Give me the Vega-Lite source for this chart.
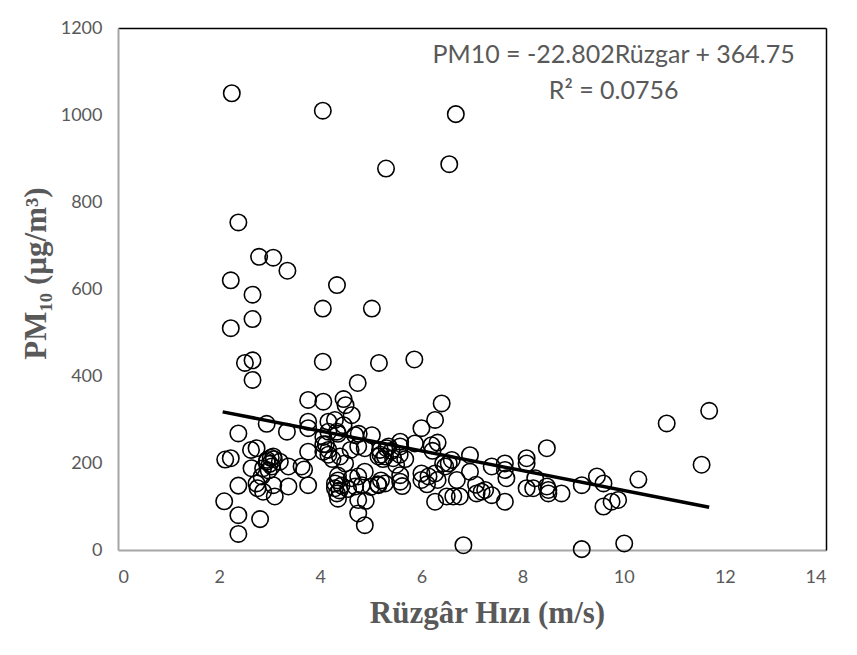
{
  "$schema": "https://vega.github.io/schema/vega-lite/v6.json",
  "width": 708,
  "height": 522,
  "autosize": {"type": "none"},
  "padding": {"left": 118, "top": 28, "right": 31, "bottom": 105},
  "background": "white",
  "config": {
    "view": {"stroke": null},
    "axis": {
      "grid": false,
      "ticks": false,
      "domainColor": "#a6a6a6",
      "domainWidth": 2,
      "labelFont": "Lato",
      "labelFontSize": 18,
      "labelColor": "#595959",
      "titleFont": "Liberation Serif",
      "titleFontWeight": "bold",
      "titleFontSize": 31,
      "titleColor": "#595959"
    }
  },
  "resolve": {"axis": {"x": "independent", "y": "independent"}},
  "datasets": {
    "obs": [
      {"wind": 2.25, "pm10": 1050}, {"wind": 4.05, "pm10": 1010}, {"wind": 6.68, "pm10": 1002}, {"wind": 5.30, "pm10": 877}, {"wind": 6.55, "pm10": 887},
      {"wind": 2.38, "pm10": 753}, {"wind": 2.79, "pm10": 674}, {"wind": 3.07, "pm10": 672}, {"wind": 3.35, "pm10": 642}, {"wind": 2.23, "pm10": 620},
      {"wind": 2.66, "pm10": 587}, {"wind": 4.33, "pm10": 609}, {"wind": 4.05, "pm10": 555}, {"wind": 5.02, "pm10": 555}, {"wind": 2.66, "pm10": 531},
      {"wind": 2.23, "pm10": 510}, {"wind": 2.51, "pm10": 430}, {"wind": 2.66, "pm10": 436}, {"wind": 2.66, "pm10": 391}, {"wind": 4.05, "pm10": 433},
      {"wind": 5.16, "pm10": 430}, {"wind": 5.86, "pm10": 438}, {"wind": 4.74, "pm10": 384}, {"wind": 6.40, "pm10": 337}, {"wind": 11.69, "pm10": 320},
      {"wind": 10.85, "pm10": 291}, {"wind": 11.54, "pm10": 196}, {"wind": 10.29, "pm10": 162}, {"wind": 8.48, "pm10": 234}, {"wind": 6.83, "pm10": 11},
      {"wind": 9.17, "pm10": 2}, {"wind": 10.01, "pm10": 15},
      {"wind": 2.38, "pm10": 37}, {"wind": 2.38, "pm10": 80}, {"wind": 2.81, "pm10": 71}, {"wind": 2.10, "pm10": 112}, {"wind": 2.38, "pm10": 148},
      {"wind": 2.38, "pm10": 268}, {"wind": 2.12, "pm10": 208}, {"wind": 2.23, "pm10": 211}, {"wind": 2.94, "pm10": 290}, {"wind": 2.63, "pm10": 230},
      {"wind": 2.74, "pm10": 234}, {"wind": 3.07, "pm10": 215}, {"wind": 2.94, "pm10": 203}, {"wind": 3.04, "pm10": 192}, {"wind": 3.20, "pm10": 203},
      {"wind": 2.87, "pm10": 188}, {"wind": 2.64, "pm10": 188}, {"wind": 3.37, "pm10": 192}, {"wind": 3.63, "pm10": 192}, {"wind": 3.68, "pm10": 185},
      {"wind": 2.74, "pm10": 153}, {"wind": 2.84, "pm10": 169}, {"wind": 3.07, "pm10": 149}, {"wind": 3.10, "pm10": 123}, {"wind": 2.87, "pm10": 134},
      {"wind": 3.37, "pm10": 146}, {"wind": 3.76, "pm10": 149}, {"wind": 3.34, "pm10": 272}, {"wind": 3.76, "pm10": 345}, {"wind": 3.76, "pm10": 295},
      {"wind": 3.76, "pm10": 280}, {"wind": 3.76, "pm10": 226}, {"wind": 2.95, "pm10": 207}, {"wind": 3.00, "pm10": 198}, {"wind": 3.02, "pm10": 212},
      {"wind": 2.98, "pm10": 183}, {"wind": 2.76, "pm10": 142}, {"wind": 3.08, "pm10": 209},
      {"wind": 4.06, "pm10": 341}, {"wind": 4.46, "pm10": 347}, {"wind": 4.50, "pm10": 333}, {"wind": 4.62, "pm10": 310}, {"wind": 4.16, "pm10": 295},
      {"wind": 4.29, "pm10": 299}, {"wind": 4.46, "pm10": 287}, {"wind": 4.16, "pm10": 272}, {"wind": 4.33, "pm10": 272}, {"wind": 4.35, "pm10": 267},
      {"wind": 4.69, "pm10": 264}, {"wind": 5.02, "pm10": 264}, {"wind": 4.06, "pm10": 260}, {"wind": 4.06, "pm10": 243}, {"wind": 4.11, "pm10": 243},
      {"wind": 4.06, "pm10": 226}, {"wind": 4.16, "pm10": 230}, {"wind": 4.16, "pm10": 219}, {"wind": 4.24, "pm10": 209}, {"wind": 4.39, "pm10": 215},
      {"wind": 4.49, "pm10": 199}, {"wind": 4.75, "pm10": 238}, {"wind": 4.88, "pm10": 234}, {"wind": 4.35, "pm10": 171}, {"wind": 4.29, "pm10": 153},
      {"wind": 4.29, "pm10": 142}, {"wind": 4.33, "pm10": 130}, {"wind": 4.35, "pm10": 118}, {"wind": 4.38, "pm10": 137}, {"wind": 4.35, "pm10": 160},
      {"wind": 4.42, "pm10": 148}, {"wind": 4.55, "pm10": 140}, {"wind": 4.69, "pm10": 146}, {"wind": 4.82, "pm10": 149}, {"wind": 4.75, "pm10": 169},
      {"wind": 4.88, "pm10": 180}, {"wind": 4.90, "pm10": 113}, {"wind": 4.75, "pm10": 115}, {"wind": 4.75, "pm10": 84}, {"wind": 4.88, "pm10": 57},
      {"wind": 4.62, "pm10": 165}, {"wind": 4.76, "pm10": 267}, {"wind": 4.60, "pm10": 230},
      {"wind": 5.18, "pm10": 230}, {"wind": 5.31, "pm10": 234}, {"wind": 5.58, "pm10": 238}, {"wind": 5.58, "pm10": 249}, {"wind": 5.28, "pm10": 215},
      {"wind": 5.15, "pm10": 215}, {"wind": 5.44, "pm10": 211}, {"wind": 5.19, "pm10": 219}, {"wind": 5.24, "pm10": 209}, {"wind": 5.41, "pm10": 228},
      {"wind": 5.57, "pm10": 219}, {"wind": 5.87, "pm10": 245}, {"wind": 5.68, "pm10": 209}, {"wind": 5.15, "pm10": 149}, {"wind": 5.28, "pm10": 153},
      {"wind": 5.58, "pm10": 157}, {"wind": 5.58, "pm10": 172}, {"wind": 5.62, "pm10": 147}, {"wind": 5.14, "pm10": 151}, {"wind": 5.20, "pm10": 160},
      {"wind": 5.00, "pm10": 145}, {"wind": 5.35, "pm10": 238}, {"wind": 5.50, "pm10": 196},
      {"wind": 6.20, "pm10": 241}, {"wind": 6.00, "pm10": 280}, {"wind": 6.27, "pm10": 299}, {"wind": 6.32, "pm10": 247}, {"wind": 6.22, "pm10": 228},
      {"wind": 6.00, "pm10": 176}, {"wind": 6.14, "pm10": 169}, {"wind": 6.27, "pm10": 176}, {"wind": 6.47, "pm10": 192}, {"wind": 6.60, "pm10": 207},
      {"wind": 6.43, "pm10": 199}, {"wind": 6.54, "pm10": 199}, {"wind": 6.00, "pm10": 161}, {"wind": 6.11, "pm10": 151}, {"wind": 6.32, "pm10": 161},
      {"wind": 6.27, "pm10": 111}, {"wind": 6.50, "pm10": 123}, {"wind": 6.63, "pm10": 123}, {"wind": 6.70, "pm10": 161}, {"wind": 6.96, "pm10": 218},
      {"wind": 6.96, "pm10": 180}, {"wind": 6.76, "pm10": 123}, {"wind": 7.09, "pm10": 130}, {"wind": 7.19, "pm10": 134}, {"wind": 7.26, "pm10": 138},
      {"wind": 7.39, "pm10": 126}, {"wind": 7.08, "pm10": 150},
      {"wind": 7.39, "pm10": 192}, {"wind": 7.65, "pm10": 199}, {"wind": 7.65, "pm10": 184}, {"wind": 7.68, "pm10": 165}, {"wind": 7.65, "pm10": 111},
      {"wind": 8.08, "pm10": 211}, {"wind": 8.08, "pm10": 199}, {"wind": 8.08, "pm10": 142}, {"wind": 8.21, "pm10": 142}, {"wind": 8.51, "pm10": 138},
      {"wind": 8.51, "pm10": 130}, {"wind": 8.48, "pm10": 146}, {"wind": 8.77, "pm10": 130}, {"wind": 8.25, "pm10": 165}, {"wind": 9.17, "pm10": 149},
      {"wind": 9.47, "pm10": 169}, {"wind": 9.60, "pm10": 153}, {"wind": 9.60, "pm10": 100}, {"wind": 9.76, "pm10": 111}, {"wind": 9.89, "pm10": 115}
    ],
    "trend": [
      {"wind": 2.07, "pm10": 317.55},
      {"wind": 11.69, "pm10": 98.2}
    ],
    "notes": [
      {"label": "PM10 = -22.802Rüzgar + 364.75", "wind": 9.8, "pm10": 1138},
      {"label": "R² = 0.0756", "wind": 9.8, "pm10": 1056}
    ]
  },
  "layer": [
    {
      "data": {"name": "obs"},
      "mark": {"type": "point", "shape": "circle", "filled": false, "stroke": "black", "strokeWidth": 1.6, "size": 270, "opacity": 1},
      "encoding": {
        "x": {"field": "wind", "type": "quantitative", "scale": {"domain": [0, 14], "nice": false, "zero": true}, "axis": {"values": [0, 2, 4, 6, 8, 10, 12, 14], "format": "d", "title": "Rüzgâr Hızı (m/s)", "labelPadding": 18, "titlePadding": 12, "titleX": 369}},
        "y": {"field": "pm10", "type": "quantitative", "scale": {"domain": [0, 1200], "nice": false}, "axis": {"values": [0, 200, 400, 600, 800, 1000, 1200], "format": "d", "title": "PM₁₀ (µg/m³)", "labelPadding": 16, "titlePadding": 8, "titleY": 245}}
      }
    },
    {
      "data": {"name": "trend"},
      "mark": {"type": "line", "color": "black", "strokeWidth": 3.5},
      "encoding": {
        "x": {"field": "wind", "type": "quantitative", "axis": {"orient": "top", "labels": false, "title": null, "domainColor": "black", "domainWidth": 1.5}},
        "y": {"field": "pm10", "type": "quantitative", "axis": {"orient": "right", "labels": false, "title": null, "domainColor": "black", "domainWidth": 1.5}}
      }
    },
    {
      "data": {"name": "notes"},
      "mark": {"type": "text", "font": "Lato", "fontSize": 25, "color": "#595959", "align": "center", "baseline": "middle"},
      "encoding": {
        "x": {"field": "wind", "type": "quantitative", "axis": null},
        "y": {"field": "pm10", "type": "quantitative", "axis": null},
        "text": {"field": "label"}
      }
    }
  ]
}
